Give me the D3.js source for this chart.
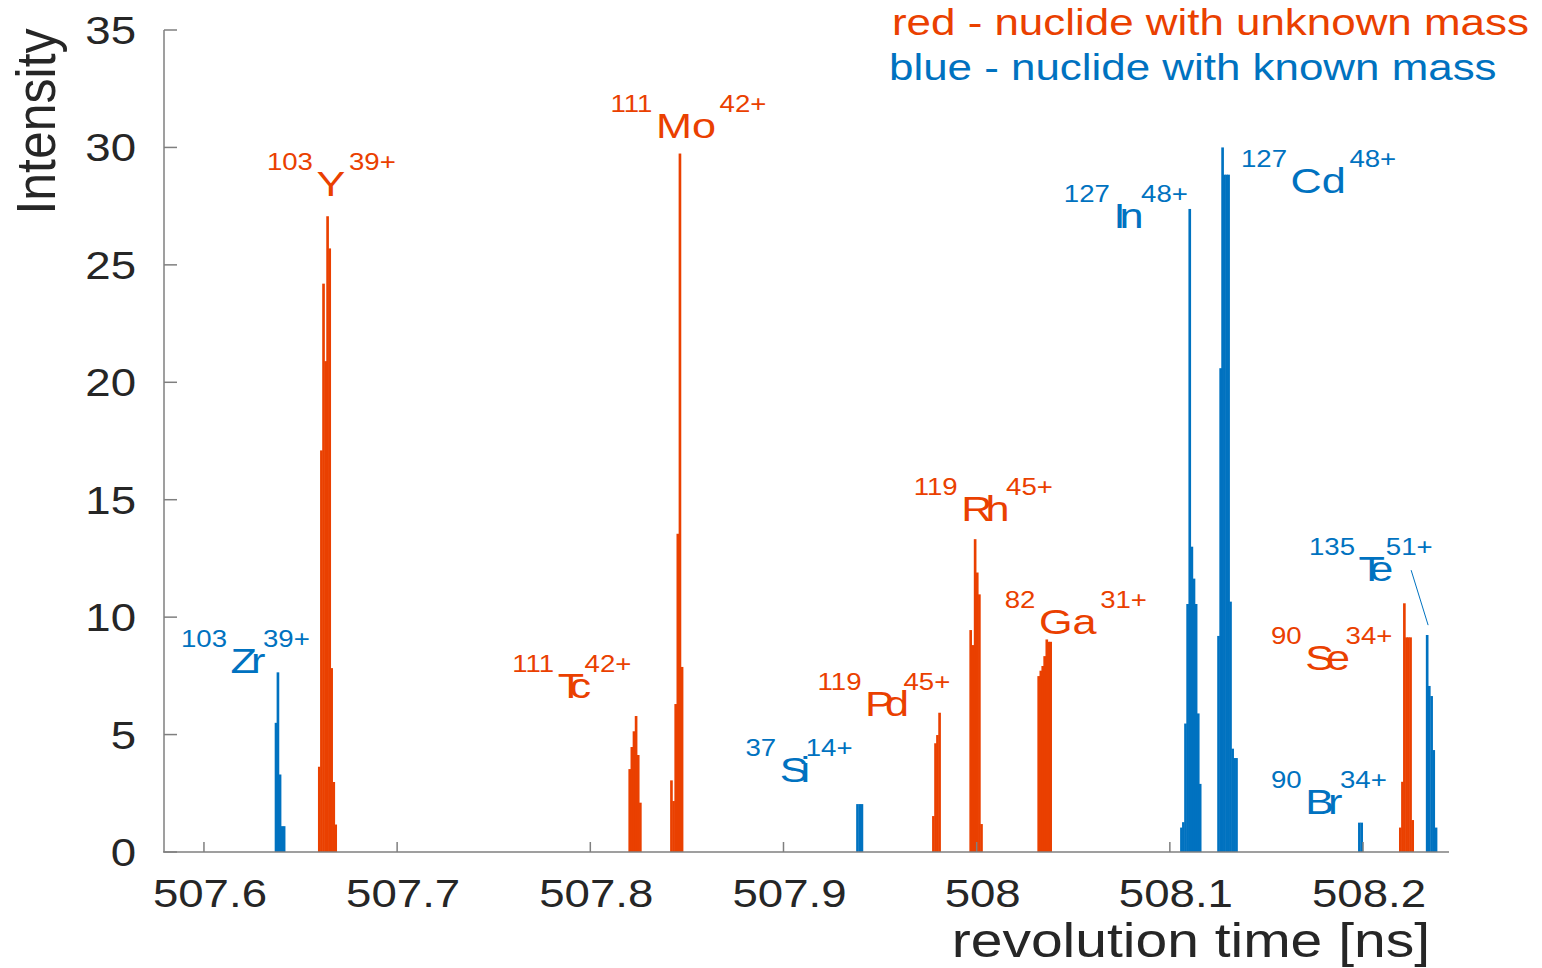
<!DOCTYPE html>
<html><head><meta charset="utf-8">
<script src="https://cdn.jsdelivr.net/npm/d3@7"></script>
<style>body{margin:0;background:#fff}svg{display:block}</style>
</head><body>
<svg id="chart" width="1542" height="968"></svg>
<script>
// ---------------- data ----------------
const binWidth = 0.00106; // ns

// red: nuclides with unknown mass (bin centre times, counts)
const redTimes = [
  507.6597, 507.6608, 507.6619, 507.6630, 507.6640, 507.6651, 507.6661, 507.6672, 507.6682, // 103Y
  507.8204, 507.8215, 507.8226, 507.8237, 507.8248, 507.8259,                               // 111Tc
  507.8420, 507.8431, 507.8442, 507.8453, 507.8464, 507.8475,                               // 111Mo
  507.9776, 507.9787, 507.9797, 507.9808,                                                   // 119Pd
  507.9969, 507.9981, 507.9992, 508.0003, 508.0014, 508.0025,                               // 119Rh
  508.0321, 508.0332, 508.0342, 508.0352, 508.0363, 508.0373, 508.0383,                     // 82Ga
  508.2193, 508.2204, 508.2214, 508.2225, 508.2235, 508.2246, 508.2257                      // 90Se
];
const redCounts = [
  3.63, 17.1, 24.2, 20.9, 27.07, 25.7, 7.83, 2.98, 1.17,
  3.53, 4.47, 5.14, 5.79, 4.13, 2.1,
  3.05, 2.17, 6.3, 13.55, 29.74, 7.88,
  1.53, 4.63, 4.98, 5.93,
  9.45, 8.81, 13.32, 11.9, 10.97, 1.19,
  7.49, 7.72, 7.92, 8.34, 9.05, 8.95, 8.95,
  1.04, 2.99, 10.59, 9.14, 9.14, 9.14, 1.36
];

// blue: nuclides with known mass
const blueTimes = [
  507.6373, 507.6383, 507.6394, 507.6404, 507.6415,                                         // 103Zr
  507.9383, 507.9395, 507.9406,                                                             // 37Si
  508.1060, 508.1070, 508.1081, 508.1092, 508.1103, 508.1114, 508.1125, 508.1136, 508.1147, 508.1157, // 127In
  508.1252, 508.1263, 508.1273, 508.1283, 508.1294, 508.1304, 508.1314, 508.1325, 508.1335, 508.1345, // 127Cd
  508.1981, 508.1993,                                                                       // 90Br
  508.2332, 508.2343, 508.2355, 508.2366, 508.2378                                          // 135Te
];
const blueCounts = [
  5.5, 7.65, 3.3, 1.1, 1.1,
  2.04, 2.04, 2.04,
  1.04, 1.27, 5.47, 10.56, 27.38, 13.0, 11.64, 10.56, 5.9, 2.9,
  9.2, 20.6, 30.0, 28.84, 28.84, 28.84, 10.66, 4.4, 4.0, 4.0,
  1.25, 1.25,
  9.24, 7.07, 6.64, 4.34, 1.04
];

const xTicks = [507.6, 507.7, 507.8, 507.9, 508.0, 508.1, 508.2];
const xTickLabels = ["507.6", "507.7", "507.8", "507.9", "508", "508.1", "508.2"];
const yTicks = [0, 5, 10, 15, 20, 25, 30, 35];
const yTickLabels = ["0", "5", "10", "15", "20", "25", "30", "35"];

// nuclide labels (anchor in data coordinates: time, intensity)
const labelMass   = ["103", "103", "111", "111", "37", "119", "119", "82", "127", "127", "90", "90", "135"];
const labelSymbol = ["Zr", "Y", "Tc", "Mo", "Si", "Pd", "Rh", "Ga", "In", "Cd", "Br", "Se", "Te"];
const labelCharge = ["39+", "39+", "42+", "42+", "14+", "45+", "45+", "31+", "48+", "48+", "34+", "34+", "51+"];
const labelKnown  = [true, false, false, false, true, false, false, false, true, true, true, false, true];
const labelTime   = [507.5881, 507.6326, 507.7596, 507.8104, 507.8803, 507.9176, 507.9674, 508.0145, 508.0451, 508.1368, 508.1523, 508.1523, 508.1720];
const labelInt    = [7.62, 27.93, 6.56, 30.40, 2.98, 5.79, 14.09, 9.28, 26.56, 28.05, 1.62, 7.75, 11.54];

// leader line for Te label
const teLineTime = [508.2249, 508.2337];
const teLineInt  = [12.0, 9.66];

const legendLines = ["red - nuclide with unknown mass", "blue - nuclide with known mass"];
const xTitle = "revolution time [ns]";
const yTitle = "Intensity";

// ---------------- drawing ----------------
const RED = "#ea4000", BLUE = "#0072c0", AXIS = "#7f7f7f", TXT = "#262626";
const SX = 1.2; // horizontal text stretch
const FONT = "'Liberation Sans', Arial, sans-serif";

const svg = d3.select("#chart");
const x = d3.scaleLinear().domain([507.5788, 508.2445]).range([163, 1449]);
const y = d3.scaleLinear().domain([0, 35]).range([852, 30]);

function bars(times, counts, color) {
  svg.append("g").selectAll("rect").data(times.map((t, i) => [t, counts[i]])).join("rect")
    .attr("x", d => x(d[0] - binWidth / 2) - 0.3)
    .attr("width", d => x(d[0] + binWidth / 2) - x(d[0] - binWidth / 2) + 0.6)
    .attr("y", d => y(d[1]))
    .attr("height", d => y(0) - y(d[1]))
    .attr("fill", color);
}
bars(redTimes, redCounts, RED);
bars(blueTimes, blueCounts, BLUE);

// axes
const axes = svg.append("g").attr("stroke", AXIS).attr("stroke-width", 1.5);
axes.append("line").attr("x1", x.range()[0]).attr("x2", x.range()[1]).attr("y1", y(0)).attr("y2", y(0));
axes.append("line").attr("x1", 164).attr("x2", 164).attr("y1", y(0)).attr("y2", y(35));
axes.selectAll(".yt").data(yTicks).join("line").attr("class", "yt")
  .attr("x1", 164).attr("x2", 177).attr("y1", d => y(d)).attr("y2", d => y(d));
axes.selectAll(".xt").data(xTicks).join("line").attr("class", "xt")
  .attr("x1", d => x(d)).attr("x2", d => x(d)).attr("y1", y(0)).attr("y2", y(0) - 10);

function stext(px, py, str, size, color, anchor) {
  return svg.append("text")
    .attr("transform", `translate(${px},${py}) scale(${SX},1)`)
    .attr("font-family", FONT).attr("font-size", size)
    .attr("fill", color).attr("text-anchor", anchor || "start")
    .text(str);
}

xTicks.forEach((t, i) => stext(x(t) + 6, 907, xTickLabels[i], 38, TXT, "middle"));
yTicks.forEach((v, i) => stext(136, y(v) + 14, yTickLabels[i], 38, TXT, "end"));

stext(1430, 957, xTitle, 47.5, TXT, "end");
svg.append("text")
  .attr("transform", "translate(55,121.5) rotate(-90) scale(1,1.1)")
  .attr("font-family", FONT).attr("font-size", 50).attr("fill", TXT)
  .attr("text-anchor", "middle").text(yTitle);

// legend
stext(892, 35, legendLines[0], 36.6, RED);
stext(889, 80, legendLines[1], 36.6, BLUE);

// nuclide labels
const tight = {Zr: -6, Tc: -10, Si: -8, Pd: -9, Rh: -7, Br: -6, Se: -8, Te: -11, In: -6};
labelSymbol.forEach((sym, i) => {
  const col = labelKnown[i] ? BLUE : RED;
  const t = svg.append("text")
    .attr("transform", `translate(${x(labelTime[i])},${y(labelInt[i])}) scale(${SX},1)`)
    .attr("font-family", FONT).attr("fill", col);
  t.append("tspan").attr("font-size", 23).attr("dy", -26).text(labelMass[i]);
  t.append("tspan").attr("font-size", 36).attr("dy", 26).attr("dx", 3)
    .attr("letter-spacing", (tight[sym] || 0) / SX).text(sym);
  t.append("tspan").attr("font-size", 23).attr("dy", -26).attr("dx", 3).text(labelCharge[i]);
});

// Te leader line
svg.append("line")
  .attr("x1", x(teLineTime[0])).attr("y1", y(teLineInt[0]))
  .attr("x2", x(teLineTime[1])).attr("y2", y(teLineInt[1]))
  .attr("stroke", BLUE).attr("stroke-width", 1);
</script>
</body></html>
